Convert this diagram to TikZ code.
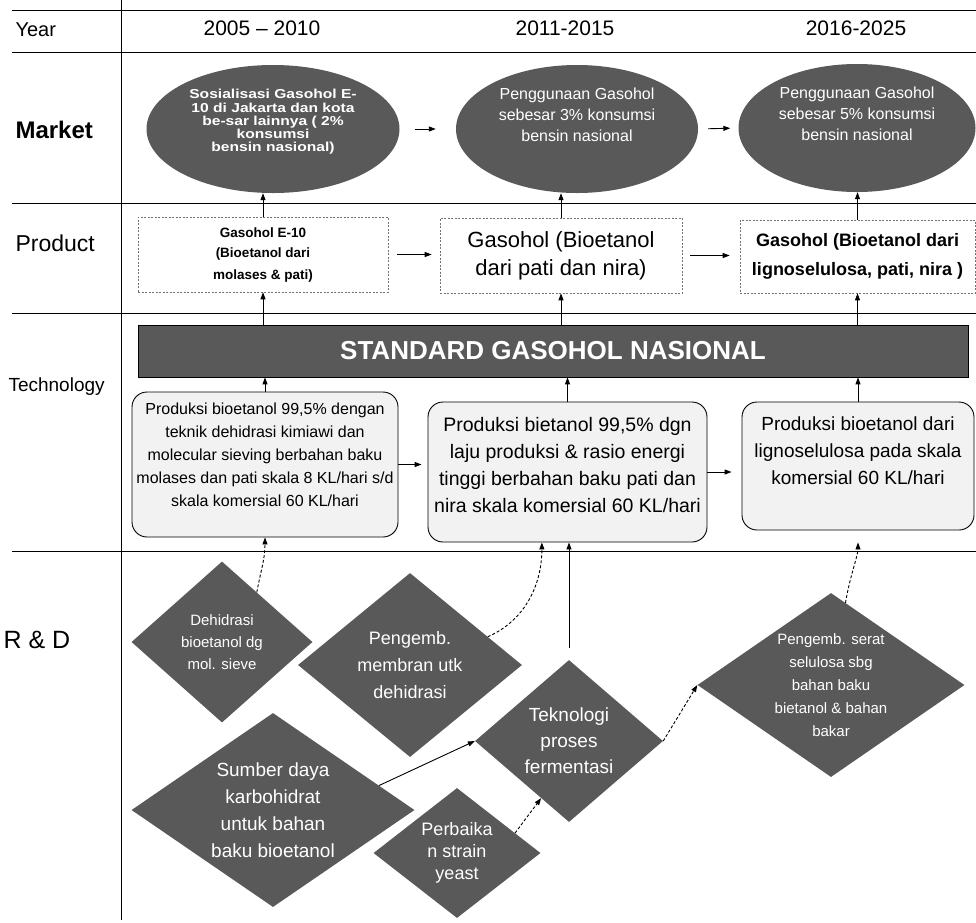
\documentclass[tikz,border=0pt]{standalone}
\usepackage{fontspec}
\setmainfont{Liberation Sans}
\usetikzlibrary{shapes.geometric,arrows.meta}

\begin{document}
\begin{tikzpicture}[
    x=1pt, y=-1pt,
    darkfill/.style={fill=black!65, text=white, inner sep=0pt, align=center},
    mkt/.style={darkfill, ellipse, minimum width=#1, minimum height=128pt},
    prd/.style={draw=black!55, dash pattern=on 2pt off 1.5pt, line width=0.6pt,
        align=center, inner sep=0pt, minimum height=75pt, minimum width=#1},
    techbox/.style={draw, line width=0.9pt, rounded corners=15pt, fill=black!5,
        align=center, inner sep=0pt, minimum width=#1},
    rd/.style={darkfill, diamond},
    arr/.style={-{Triangle[length=7pt,width=5pt]}, line width=0.9pt},
    darr/.style={arr, dash pattern=on 3pt off 2pt},
]
    \useasboundingbox (0,0) rectangle (976,922);

    % grid of the table
    \begin{scope}[line width=1pt]
        \foreach \y in {10, 52, 203, 313, 551} {
            \draw (12,\y) -- (976,\y);
        }
        \draw (121,0) -- (121,920);
    \end{scope}

    % header and row labels
    \node[anchor=west, font=\fontsize{20}{24}\selectfont] (year) at (12,30) {Year};
    \node[font=\fontsize{21}{25}\selectfont] (yr1) at (262,28) {2005 – 2010};
    \node[font=\fontsize{21}{25}\selectfont] (yr2) at (565,28) {2011-2015};
    \node[font=\fontsize{21}{25}\selectfont] (yr3) at (856,28) {2016-2025};
    \node[anchor=west, font=\fontsize{24}{28}\selectfont\bfseries] (lmarket) at (12,130) {Market};
    \node[anchor=west, font=\fontsize{23}{27}\selectfont] (lproduct) at (12,243) {Product};
    \node[anchor=west, font=\fontsize{19}{23}\selectfont] (ltech) at (5,387) {Technology};
    \node[anchor=west, font=\fontsize{25}{29}\selectfont] (lrd) at (0,640) {R \& D};

    % market
    \node[mkt=253pt, text depth=17pt,
        font=\fontsize{13}{13.2}\selectfont\bfseries\addfontfeature{FakeStretch=1.2}] (mkt1) at (273,129)
        {Sosialisasi Gasohol E-\\10 di Jakarta dan kota\\be-sar lainnya ( 2\%\\konsumsi\\bensin nasional)};
    \node[mkt=242pt, text depth=28pt, font=\fontsize{16}{21}\selectfont] (mkt2) at (577,129)
        {Penggunaan Gasohol\\sebesar 3\% konsumsi\\bensin nasional};
    \node[mkt=237pt, text depth=28pt, font=\fontsize{16}{21}\selectfont] (mkt3) at (857,128)
        {Penggunaan Gasohol\\sebesar 5\% konsumsi\\bensin nasional};

    % product
    \node[prd=250pt, font=\fontsize{13.5}{21}\selectfont\bfseries] (prd1) at (263,254.5)
        {Gasohol E-10\\(Bioetanol dari\\molases \& pati)};
    \node[prd=242pt, font=\fontsize{22}{28}\selectfont] (prd2) at (561,255.5)
        {Gasohol (Bioetanol\\dari pati dan nira)};
    \node[prd=235pt, minimum height=73pt, font=\fontsize{18}{29}\selectfont\bfseries] (prd3) at (857.5,256.5)
        {Gasohol (Bioetanol dari\\lignoselulosa, pati, nira )};

    % technology
    \node[draw, fill=black!65, text=white, line width=0.8pt, minimum width=830pt, minimum height=52pt,
        inner sep=0pt, font=\fontsize{26}{30}\selectfont\bfseries] (std) at (553,351)
        {STANDARD GASOHOL NASIONAL};
    \node[techbox=266pt, minimum height=145pt, text depth=20pt, font=\fontsize{16}{23}\selectfont] (tech1) at (265,464.5)
        {Produksi bioetanol 99,5\% dengan\\teknik dehidrasi kimiawi dan\\molecular sieving berbahan baku\\molases dan pati skala 8 KL/hari s/d\\skala komersial 60 KL/hari};
    \node[techbox=279pt, minimum height=140pt, text depth=14pt, font=\fontsize{19.5}{27}\selectfont] (tech2) at (567.5,472)
        {Produksi bietanol 99,5\% dgn\\laju produksi \& rasio energi\\tinggi berbahan baku pati dan\\nira skala komersial 60 KL/hari};
    \node[techbox=232pt, minimum height=128pt, text depth=30pt, font=\fontsize{19}{27}\selectfont] (tech3) at (858,466)
        {Produksi bioetanol dari\\lignoselulosa pada skala\\komersial 60 KL/hari};

    % R&D
    \node[rd, minimum width=181pt, minimum height=161pt, aspect=1.12, font=\fontsize{15}{22}\selectfont]
        (dehid) at (222,642) {Dehidrasi\\bioetanol dg\\mol. sieve};
    \node[rd, minimum width=224pt, minimum height=184pt, aspect=1.22, font=\fontsize{18}{27}\selectfont]
        (membran) at (410,665) {Pengemb.\\membran utk\\dehidrasi};
    \node[rd, minimum width=283pt, minimum height=194pt, aspect=1.46, font=\fontsize{19}{27}\selectfont]
        (sumber) at (273,810) {Sumber daya\\karbohidrat\\untuk bahan\\baku bioetanol};
    \node[rd, minimum width=167pt, minimum height=130pt, aspect=1.28, font=\fontsize{18}{22}\selectfont]
        (yeast) at (457,853) {Perbaika\\n strain\\yeast};
    \node[rd, minimum width=188pt, minimum height=162pt, aspect=1.16, font=\fontsize{19}{26}\selectfont]
        (ferment) at (569,741) {Teknologi\\proses\\fermentasi};
    \node[rd, minimum width=267pt, minimum height=184pt, aspect=1.45, font=\fontsize{15}{23}\selectfont]
        (serat) at (831,685) {Pengemb. serat\\selulosa sbg\\bahan baku\\bietanol \& bahan\\bakar};

    % arrows between periods
    \draw[arr, shorten <=15pt, shorten >=20pt] (mkt1.east) -- (mkt2.west);
    \draw[arr, shorten <=10pt, shorten >=8pt] (mkt2.east) -- (mkt3.west);
    \draw[arr, shorten <=9pt, shorten >=8pt] (prd1.east) -- (prd1.east -| prd2.west);
    \draw[arr, shorten <=8pt, shorten >=10pt] (prd2.east) -- (prd2.east -| prd3.west);
    \draw[arr, shorten >=6pt] (tech1.east) -- (tech1.east -| tech2.west);
    \draw[arr, shorten >=10pt] (tech2.east) -- (tech2.east -| tech3.west);

    % arrows up the columns
    \foreach \i in {1, 2, 3} {
        \draw[arr] (prd\i.north) -- (prd\i.north |- mkt\i.south);
        \draw[arr] (prd\i.south |- std.north) -- (prd\i.south);
        \draw[arr] (tech\i.north) -- (tech\i.north |- std.south);
    }

    % R&D links
    \draw[darr] (dehid.55) .. controls +(4,-22) and +(0,22) .. (tech1.south);
    \draw[darr] (membran.20) .. controls +(35,-15) and +(0,45) .. (tech2.-110);
    \draw[arr, shorten <=12pt] (ferment.north) -- (ferment.north |- tech2.south);
    \draw[arr] (sumber.13) -- (ferment.west);
    \draw[darr] (yeast.19) -- (ferment.244);
    \draw[darr] (ferment.east) -- (serat.west);
    \draw[darr, shorten >=12pt] (serat.80) .. controls +(4,-25) and +(0,25) .. (tech3.south);
\end{tikzpicture}
\end{document}
